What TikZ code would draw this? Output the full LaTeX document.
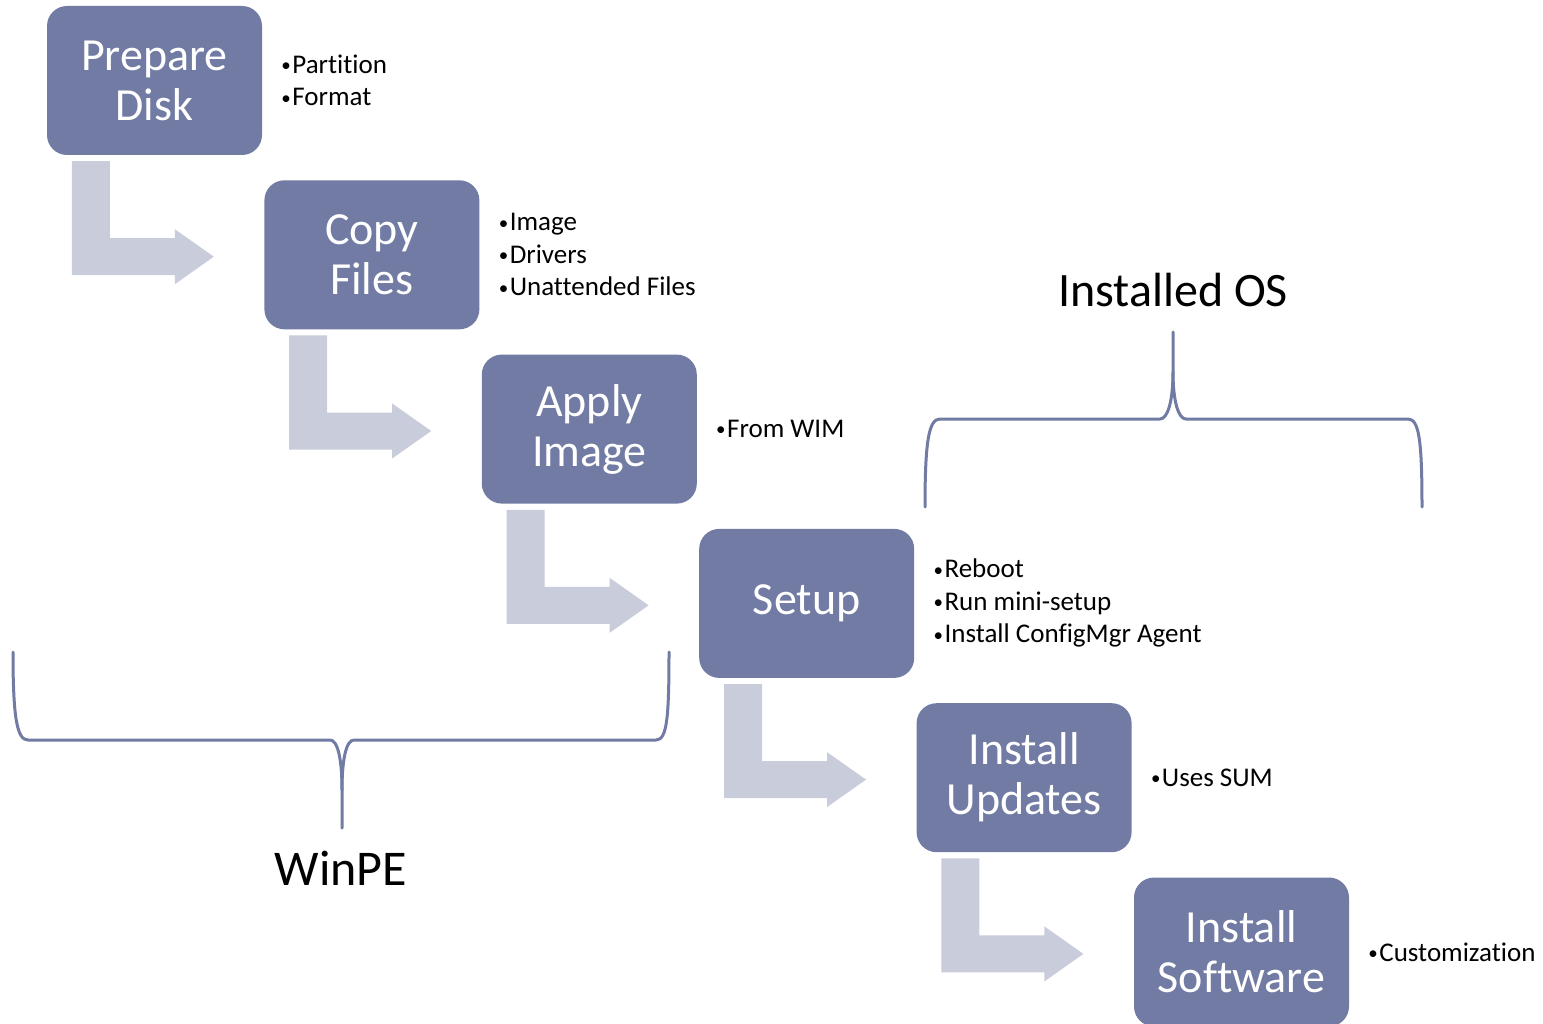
\documentclass[tikz,border=0pt]{standalone}
\usepackage{fontspec}
\setmainfont{Carlito}[Ligatures=NoCommon]
\usetikzlibrary{positioning}
\definecolor{boxblue}{RGB}{113,123,163}
\definecolor{arrowgrey}{RGB}{201,204,218}
\tikzset{
  stepbox/.style={fill=boxblue, rounded corners=20pt, minimum width=215pt, minimum height=149pt,
    inner sep=0pt, text=white, align=center, font=\fontsize{46}{50}\selectfont},
  bul/.style={inner sep=0pt, align=left, anchor=west, font=\fontsize{27}{32.5}\selectfont, text=black},
  bentarrow/.style={fill=arrowgrey},
  bracestyle/.style={draw=boxblue, line width=3pt, line cap=round},
  biglabel/.style={inner sep=0pt, font=\fontsize{48}{52}\selectfont, text=black}
}
\newcommand{\bt}[1]{\raisebox{1.8pt}{\fontsize{19}{19}\selectfont\textbullet}\kern1.5pt #1}
\begin{document}
\begin{tikzpicture}[x=1pt,y=-1pt]
\useasboundingbox (0,0) rectangle (1543,1024);
% boxes
\node[stepbox] (b0) at (154.5,80.5) {Prepare\\Disk};
\node[stepbox] (b1) at (371.9,254.8) {Copy\\Files};
\node[stepbox] (b2) at (589.3,429.1) {Apply\\Image};
\node[stepbox] (b3) at (806.7,603.4) {Setup};
\node[stepbox] (b4) at (1024.1,777.7) {Install\\Updates};
\node[stepbox] (b5) at (1241.5,952) {Install\\Software};
% bullet lists
\node[bul, right=19pt of b0] (t0) {\bt{Partition}\\\bt{Format}};
\node[bul, right=19pt of b1] (t1) {\bt{Image}\\\bt{Drivers}\\\bt{Unattended Files}};
\node[bul, right=19pt of b2] (t2) {\bt{From WIM}};
\node[bul, right=19pt of b3] (t3) {\bt{Reboot}\\\bt{Run mini-setup}\\\bt{Install ConfigMgr Agent}};
\node[bul, right=19pt of b4] (t4) {\bt{Uses SUM}};
\node[bul, right=19pt of b5] (t5) {\bt{Customization}};
% bent arrows
\foreach \b in {b0,b1,b2,b3,b4}{
  \fill[bentarrow, shift={(\b.south west)}]
    (25,6) -- (63,6) -- (63,83) -- (128,83) -- (128,74) -- (167,101.5)
    -- (128,129) -- (128,120) -- (25,120) -- cycle;
}
% Installed OS brace
\draw[bracestyle] (925,507) .. controls (925,440) and (929,419) .. (940,419) -- (1160,419)
  .. controls (1168,419) and (1173,400) .. (1173,372) -- (1173,332);
\draw[bracestyle] (1173,372) .. controls (1173,400) and (1178,419) .. (1186,419) -- (1408,419)
  .. controls (1419,419) and (1422,440) .. (1422,507);
\node[biglabel] (os) at (1173,290) {Installed OS};
% WinPE brace
\draw[bracestyle] (13,652) .. controls (13,718) and (17,740) .. (28,740) -- (330,740)
  .. controls (338,740) and (342,760) .. (342,790) -- (342,828);
\draw[bracestyle] (342,790) .. controls (342,760) and (346,740) .. (354,740) -- (656,740)
  .. controls (667,740) and (669,718) .. (669,652);
\node[biglabel, font=\fontsize{50}{54}\selectfont] (pe) at (341,868) {WinPE};
\end{tikzpicture}
\end{document}
